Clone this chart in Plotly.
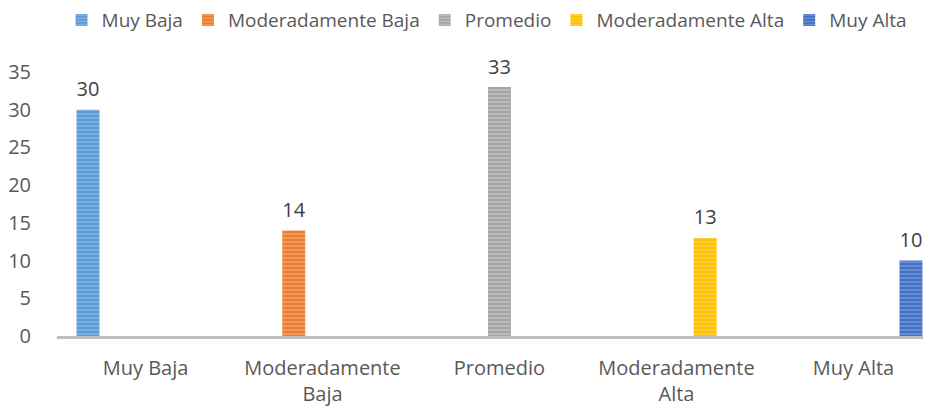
import plotly.graph_objects as go

categories = ["Muy Baja", "Moderadamente<br>Baja", "Promedio", "Moderadamente<br>Alta", "Muy Alta"]
series_names = ["Muy Baja", "Moderadamente Baja", "Promedio", "Moderadamente Alta", "Muy Alta"]
values = [30, 14, 33, 13, 10]
colors = ["#5B9BD5", "#ED7D31", "#A5A5A5", "#FFC000", "#4472C4"]
stripe = ["#A9CBEB", "#F6B893", "#D4D4D4", "#FFDF80", "#8FA9DF"]
y_ticks = [0, 5, 10, 15, 20, 25, 30, 35]

FONT = "Open Sans"
fig = go.Figure()
for i, name in enumerate(series_names):
    ys = [values[i] if j == i else None for j in range(len(categories))]
    fig.add_trace(go.Bar(
        x=categories, y=ys, name=name,
        marker=dict(color=colors[i], line=dict(width=0),
                    pattern=dict(shape="-", fgcolor=stripe[i], size=4, solidity=0.45, fillmode="overlay")),
        hoverinfo="skip",
    ))
# data labels, grouped like the bars
for i, name in enumerate(series_names):
    ys = [values[i] if j == i else None for j in range(len(categories))]
    fig.add_trace(go.Scatter(
        x=categories, y=ys, mode="markers+text", showlegend=False,
        orientation="v", offsetgroup=str(i), alignmentgroup="labels",
        marker=dict(size=12, opacity=0),
        text=[str(v) if v is not None else "" for v in ys],
        textposition="top center", cliponaxis=False,
        textfont=dict(size=20, color="#404040", family=FONT),
        hoverinfo="skip",
    ))

fig.update_layout(
    width=923, height=401,
    margin=dict(l=49, r=0, t=64, b=73),
    paper_bgcolor="white", plot_bgcolor="white",
    barmode="group", bargap=0.188, bargroupgap=0.2,
    scattermode="group", scattergap=0.188,
    font=dict(family=FONT, size=20, color="#595959"),
    showlegend=True,
    legend=dict(orientation="h", x=0.519, xanchor="center", xref="container",
                y=0.97, yanchor="middle", yref="container",
                font=dict(size=19, color="#595959", family=FONT), itemwidth=30,
                tracegroupgap=0),
)
fig.update_xaxes(range=[-0.5, 4.438], showline=True, linecolor="#BFBFBF", linewidth=3,
                 showgrid=False, ticks="", ticklabelstandoff=12, automargin=False,
                 tickfont=dict(size=20, color="#595959", family=FONT),
                 fixedrange=True)
fig.update_yaxes(range=[0, 35], tickvals=y_ticks, showgrid=False, zeroline=False,
                 showline=False, ticks="", ticklabelstandoff=25, automargin=False,
                 tickfont=dict(size=20, color="#595959", family=FONT), fixedrange=True)

fig.write_html("out.html")
